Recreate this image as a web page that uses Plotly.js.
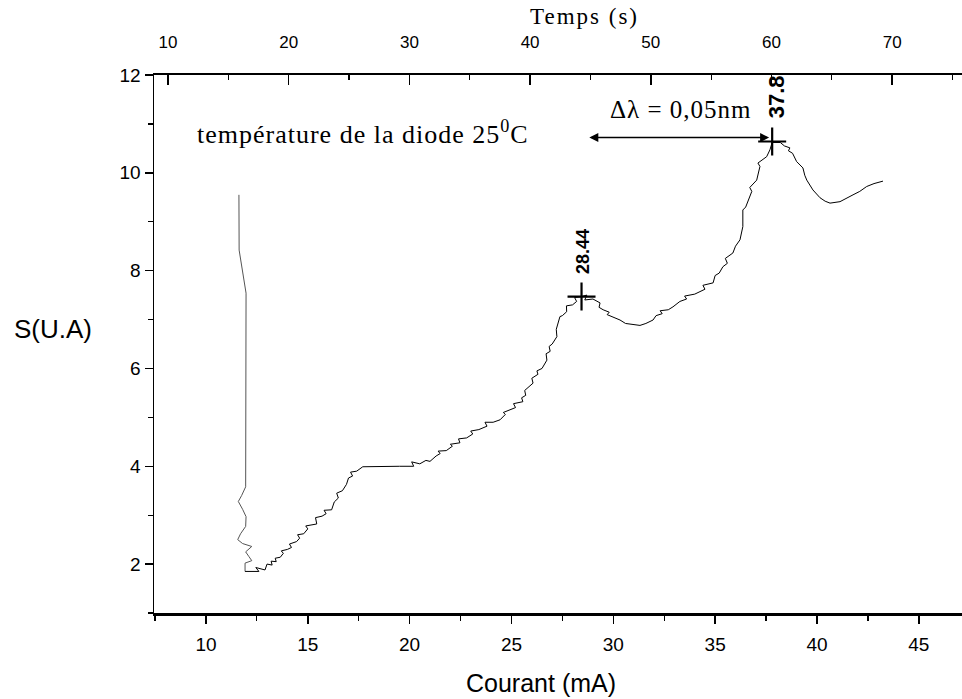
<!DOCTYPE html>
<html>
<head>
<meta charset="utf-8">
<script src="https://cdn.plot.ly/plotly-3.0.1.min.js"></script>
<style>html,body{margin:0;padding:0;background:#fff;}#chart{width:962px;height:699px;}</style>
</head>
<body>
<div id="chart"></div>
<script>
// Initial (descending) part of the recording: current (mA) and signal (U.A)
const descentCourant = [11.62, 11.62, 11.63, 11.97, 11.97, 11.96, 11.95, 11.75, 11.59, 11.80, 11.97, 11.95, 11.70, 11.56, 11.80, 12.25, 12.10, 11.95, 12.10, 12.25, 11.92, 11.92];
const descentSignal  = [9.55, 9.20, 8.42, 7.54, 6.00, 4.50, 3.58, 3.40, 3.28, 3.12, 2.97, 2.77, 2.62, 2.50, 2.42, 2.36, 2.30, 2.25, 2.16, 2.07, 2.02, 1.85];

// Rise from the minimum to the plateau
const rampCourant = [11.92, 12.6, 12.45, 12.75, 12.9, 13.0, 13.25, 13.2, 13.45, 13.4, 13.65, 13.8, 13.7, 14.0, 14.2, 14.1, 14.45, 14.6, 14.5, 14.8, 15.0, 14.9, 15.25, 15.44, 15.38, 15.7, 15.9, 15.8, 16.17, 16.3, 16.5, 16.42, 16.7, 16.9, 17.0, 17.2, 17.1, 17.4, 17.7];
const rampSignal  = [1.85, 1.85, 1.93, 1.9, 1.88, 2.0, 1.98, 2.06, 2.05, 2.12, 2.14, 2.22, 2.27, 2.3, 2.34, 2.41, 2.46, 2.53, 2.6, 2.62, 2.72, 2.78, 2.8, 2.82, 2.95, 2.98, 3.03, 3.1, 3.11, 3.27, 3.35, 3.45, 3.5, 3.63, 3.76, 3.8, 3.88, 3.9, 3.99];

// Plateau and rise to the first peak (28.44 mA)
const pic1Courant = [18.5, 19.5, 20.2, 20.1, 20.5, 20.8, 21.0, 21.3, 21.5, 21.4, 21.8, 22.1, 22.0, 22.47, 22.4, 22.8, 23.1, 23.0, 23.4, 23.8, 23.7, 24.1, 24.44, 24.7, 24.6, 24.9, 25.2, 25.1, 25.56, 25.5, 25.7, 25.65, 25.8, 26.06, 26.0, 26.3, 26.25, 26.5, 26.74, 26.7, 26.9, 26.85, 27.0, 27.23, 27.2, 27.38, 27.5, 27.71, 27.7, 28.0, 28.2, 28.1, 28.44];
const pic1Signal  = [4.0, 4.0, 4.0, 4.09, 4.05, 4.12, 4.1, 4.21, 4.26, 4.31, 4.32, 4.41, 4.45, 4.48, 4.56, 4.58, 4.66, 4.72, 4.75, 4.82, 4.9, 4.9, 4.95, 5.06, 5.1, 5.15, 5.2, 5.28, 5.32, 5.4, 5.45, 5.55, 5.6, 5.7, 5.8, 5.88, 5.95, 6.0, 6.17, 6.3, 6.35, 6.45, 6.5, 6.65, 6.8, 7.06, 7.08, 7.16, 7.28, 7.3, 7.37, 7.45, 7.47];

// Dip and rise to the second peak (37.8 mA)
const pic2Courant = [28.7, 28.6, 29.0, 29.35, 29.3, 29.5, 29.8, 29.7, 30.0, 30.33, 30.6, 31.0, 31.31, 31.6, 31.95, 32.1, 32.4, 32.3, 32.7, 32.93, 33.27, 33.6, 33.5, 34.0, 34.25, 34.5, 34.4, 34.9, 35.0, 35.2, 35.38, 35.6, 35.5, 35.87, 36.0, 36.22, 36.36, 36.36, 36.5, 36.71, 36.8, 36.7, 37.04, 37.2, 37.1, 37.53, 37.69, 37.8];
const pic2Signal  = [7.5, 7.4, 7.42, 7.34, 7.25, 7.2, 7.15, 7.1, 7.05, 6.99, 6.92, 6.9, 6.88, 6.92, 6.99, 7.08, 7.12, 7.18, 7.2, 7.26, 7.37, 7.42, 7.48, 7.52, 7.57, 7.62, 7.7, 7.75, 7.9, 7.95, 8.08, 8.15, 8.25, 8.36, 8.5, 8.63, 8.9, 9.24, 9.3, 9.51, 9.62, 9.7, 9.85, 10.13, 10.2, 10.33, 10.47, 10.62];

// Tail after the second peak
const finCourant = [38.2, 38.4, 38.67, 38.6, 38.8, 39.0, 39.31, 39.4, 39.5, 39.8, 40.15, 40.4, 40.64, 41.13, 41.5, 41.77, 42.1, 42.44, 42.8, 43.24];
const finSignal  = [10.62, 10.55, 10.51, 10.45, 10.4, 10.23, 10.1, 9.95, 9.85, 9.65, 9.49, 9.42, 9.38, 9.41, 9.5, 9.55, 9.62, 9.72, 9.78, 9.83];

// Marked peaks
const peakCourant = [28.44, 37.8];
const peakSignal  = [7.47, 10.64];
const peakLabels  = ['28.44', '37.8'];

// Top axis (time) tick values
const tempsTicks = [10, 20, 30, 40, 50, 60, 70];

const courant = rampCourant.concat(pic1Courant, pic2Courant, finCourant);
const signal  = rampSignal.concat(pic1Signal, pic2Signal, finSignal);

const serif = 'Liberation Serif, Times New Roman, serif';
const sans = 'Liberation Sans, Arial, sans-serif';

const traces = [
  {x: descentCourant, y: descentSignal, mode: 'lines', line: {color: '#555', width: 1}, hoverinfo: 'skip', showlegend: false},
  {x: courant, y: signal, mode: 'lines', line: {color: '#000', width: 1}, showlegend: false},
  {x: peakCourant, y: peakSignal, mode: 'markers', marker: {symbol: 'cross-thin', size: 20, line: {color: '#000', width: 2.2}}, showlegend: false},
  {x: tempsTicks, y: tempsTicks.map(() => null), xaxis: 'x2', yaxis: 'y', mode: 'lines', hoverinfo: 'skip', showlegend: false}
];

const annotations = [
  {x: 17.71, y: 10.82, xref: 'x', yref: 'y', text: '<span style="letter-spacing:1px">température de la diode 25<sup>0</sup>C</span>', showarrow: false, font: {family: serif, size: 26, color: '#000'}},
  {x: 33.3, y: 11.3, xref: 'x', yref: 'y', text: '<span style="letter-spacing:1px">Δλ = 0,05nm</span>', showarrow: false, font: {family: serif, size: 25, color: '#000'}},
  {x: 37.65, y: 10.72, xref: 'x', yref: 'y', ax: 28.75, ay: 10.72, axref: 'x', ayref: 'y', text: '', showarrow: true, arrowhead: 2, arrowside: 'end+start', arrowsize: 1.2, arrowwidth: 1.5, arrowcolor: '#000'},
  {x: peakCourant[0] + 0.07, y: 8.40, xref: 'x', yref: 'y', text: '<b>' + peakLabels[0] + '</b>', textangle: -90, showarrow: false, font: {family: sans, size: 18, color: '#000'}},
  {x: peakCourant[1] + 0.2, y: 11.55, xref: 'x', yref: 'y', text: '<b>' + peakLabels[1] + '</b>', textangle: -90, showarrow: false, font: {family: sans, size: 22, color: '#000'}},
  {x: -0.125, y: 0.528, xref: 'paper', yref: 'paper', xanchor: 'center', yanchor: 'middle', text: 'S(U.A)', showarrow: false, font: {family: sans, size: 26, color: '#000'}},
  {x: 0.533, y: 1.108, xref: 'paper', yref: 'paper', xanchor: 'center', yanchor: 'middle', text: '<span style="letter-spacing:2px">Temps (s)</span>', showarrow: false, font: {family: serif, size: 23, color: '#000'}},
  {x: 0.479, y: -0.13, xref: 'paper', yref: 'paper', xanchor: 'center', yanchor: 'middle', text: 'Courant (mA)', showarrow: false, font: {family: sans, size: 25, color: '#000'}}
];

const layout = {
  width: 962, height: 699,
  margin: {l: 154, r: 0, t: 75, b: 86, pad: 0},
  paper_bgcolor: '#fff', plot_bgcolor: '#fff',
  showlegend: false,
  xaxis: {
    range: [7.45, 47.12], dtick: 5, tick0: 0,
    ticks: 'outside', ticklen: 8, tickwidth: 1.5, tickcolor: '#000',
    minor: {dtick: 2.5, tick0: 0, ticks: 'outside', ticklen: 5, tickwidth: 1.2, tickcolor: '#000'},
    showline: true, linewidth: 2.5, linecolor: '#000',
    showgrid: false, zeroline: false,
    ticklabelstandoff: 5,
    tickfont: {family: sans, size: 19, color: '#000'}
  },
  xaxis2: {
    overlaying: 'x', side: 'top', anchor: 'y',
    range: [8.84, 75.78], dtick: 10, tick0: 0,
    ticks: 'inside', ticklen: 10, tickwidth: 1.5, tickcolor: '#000',
    minor: {dtick: 5, tick0: 0, ticks: 'inside', ticklen: 5, tickwidth: 1.2, tickcolor: '#000'},
    showline: true, linewidth: 2, linecolor: '#000',
    showgrid: false, zeroline: false,
    ticklabelstandoff: 18,
    tickfont: {family: sans, size: 17, color: '#000'}
  },
  yaxis: {
    range: [1, 12], dtick: 2, tick0: 0,
    ticks: 'outside', ticklen: 8, tickwidth: 1.5, tickcolor: '#000',
    minor: {dtick: 1, tick0: 0, ticks: 'outside', ticklen: 5, tickwidth: 1.2, tickcolor: '#000'},
    showline: true, linewidth: 1.5, linecolor: '#000',
    showgrid: false, zeroline: false,
    tickfont: {family: sans, size: 19, color: '#000'}
  },
  annotations: annotations
};

Plotly.newPlot('chart', traces, layout, {displayModeBar: false, staticPlot: true});
</script>
</body>
</html>
